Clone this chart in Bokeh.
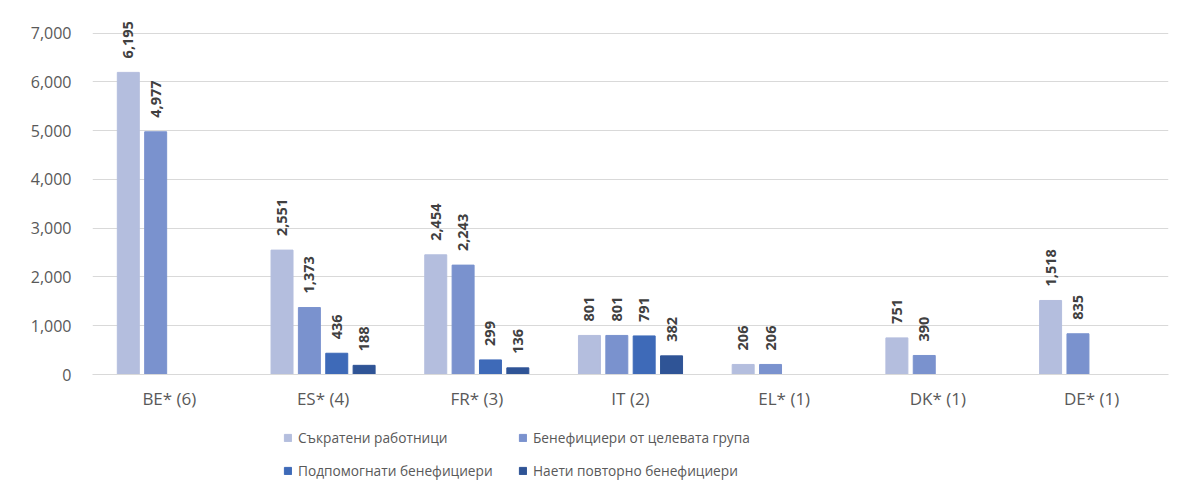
from bokeh.plotting import figure
from bokeh.layouts import column
from bokeh.models import (ColumnDataSource, FactorRange, Range1d, FixedTicker,
                          Legend, LegendItem, NumeralTickFormatter)
from bokeh.transform import dodge
from bokeh.core.properties import value
from bokeh.embed import file_html
from bokeh.resources import INLINE

categories = ["BE* (6)", "ES* (4)", "FR* (3)", "IT (2)", "EL* (1)", "DK* (1)", "DE* (1)"]
series_names = ["Съкратени работници", "Бенефициери от целевата група",
                "Подпомогнати бенефициери", "Наети повторно бенефициери"]
laid_off = [6195, 2551, 2454, 801, 206, 751, 1518]
targeted = [4977, 1373, 2243, 801, 206, 390, 835]
assisted = [None, 436, 299, 791, None, None, None]
reemployed = [None, 188, 136, 382, None, None, None]
y_ticks = [0, 1000, 2000, 3000, 4000, 5000, 6000, 7000]

series = [laid_off, targeted, assisted, reemployed]
colors = ["#B4BEDE", "#7A92CE", "#3E6AB8", "#2F5496"]
offsets = [-0.267, -0.089, 0.089, 0.267]
FONT = "Open Sans"

p = figure(x_range=FactorRange(*categories, range_padding=0, factor_padding=0),
           y_range=Range1d(0, 7300), width=1175, height=415,
           output_backend="svg", toolbar_location=None,
           min_border_left=92, min_border_right=7, min_border_top=18,
           min_border_bottom=41)
p.outline_line_color = None
p.background_fill_color = "white"
p.border_fill_color = "white"

for name, vals, col, off in zip(series_names, series, colors, offsets):
    cats = [c for c, v in zip(categories, vals) if v is not None]
    vs = [v for v in vals if v is not None]
    src = ColumnDataSource(dict(cat=cats, val=vs, lab=[f"{v:,}" for v in vs]))
    p.vbar(x=dodge("cat", off, range=p.x_range), top="val", width=0.143,
           source=src, fill_color=col, line_color=col)
    p.text(x=dodge("cat", off, range=p.x_range), y="val", text="lab", source=src,
           angle=1.5708, text_align="left", text_baseline="middle", y_offset=-14,
           text_font=value(FONT), text_font_size="14.5px", text_font_style="bold",
           text_color="#404040")

p.yaxis.ticker = FixedTicker(ticks=y_ticks)
p.yaxis.formatter = NumeralTickFormatter(format="0,0")
p.yaxis.axis_line_color = None
p.yaxis.major_tick_line_color = None
p.yaxis.minor_tick_line_color = None
p.yaxis.major_label_standoff = 15
p.yaxis.major_label_text_font = FONT
p.yaxis.major_label_text_font_size = "16px"
p.yaxis.major_label_text_color = "#595959"

p.xaxis.axis_line_color = "#d9d9d9"
p.xaxis.major_tick_line_color = None
p.xaxis.minor_tick_line_color = None
p.xaxis.major_label_standoff = 6
p.xaxis.major_label_text_font = FONT
p.xaxis.major_label_text_font_size = "17px"
p.xaxis.major_label_text_color = "#595959"

p.xgrid.grid_line_color = None
p.ygrid.grid_line_color = "#d9d9d9"
p.ygrid.ticker = FixedTicker(ticks=y_ticks)

# legend in a separate strip below the chart (frames are aligned with the chart)
lf = figure(width=1175, height=75, x_range=Range1d(0, 1), y_range=Range1d(0, 1),
            output_backend="svg", toolbar_location=None,
            min_border_left=92, min_border_right=7, min_border_top=0,
            min_border_bottom=0)
lf.axis.visible = False
lf.grid.visible = False
lf.outline_line_color = None
items = []
for name, col in zip(series_names, colors):
    r = lf.vbar(x=[0.5], top=[0.5], width=0.1, fill_color=col, line_color=col)
    r.visible = False
    items.append(LegendItem(label=name, renderers=[r]))

legend_style = dict(border_line_color=None, background_fill_alpha=0,
                    label_text_font=FONT, label_text_font_size="13.7px",
                    label_text_color="#595959", glyph_width=9, glyph_height=9,
                    label_height=20, label_standoff=6, spacing=13, padding=0,
                    margin=0, orientation="vertical")
leg_left = Legend(items=[items[0], items[2]], location=(191, 10), **legend_style)
leg_right = Legend(items=[items[1], items[3]], location=(426, 10), **legend_style)
lf.add_layout(leg_left)
lf.add_layout(leg_right)

layout = column(p, lf, spacing=0)
open("out.html", "w").write(file_html(layout, INLINE))
